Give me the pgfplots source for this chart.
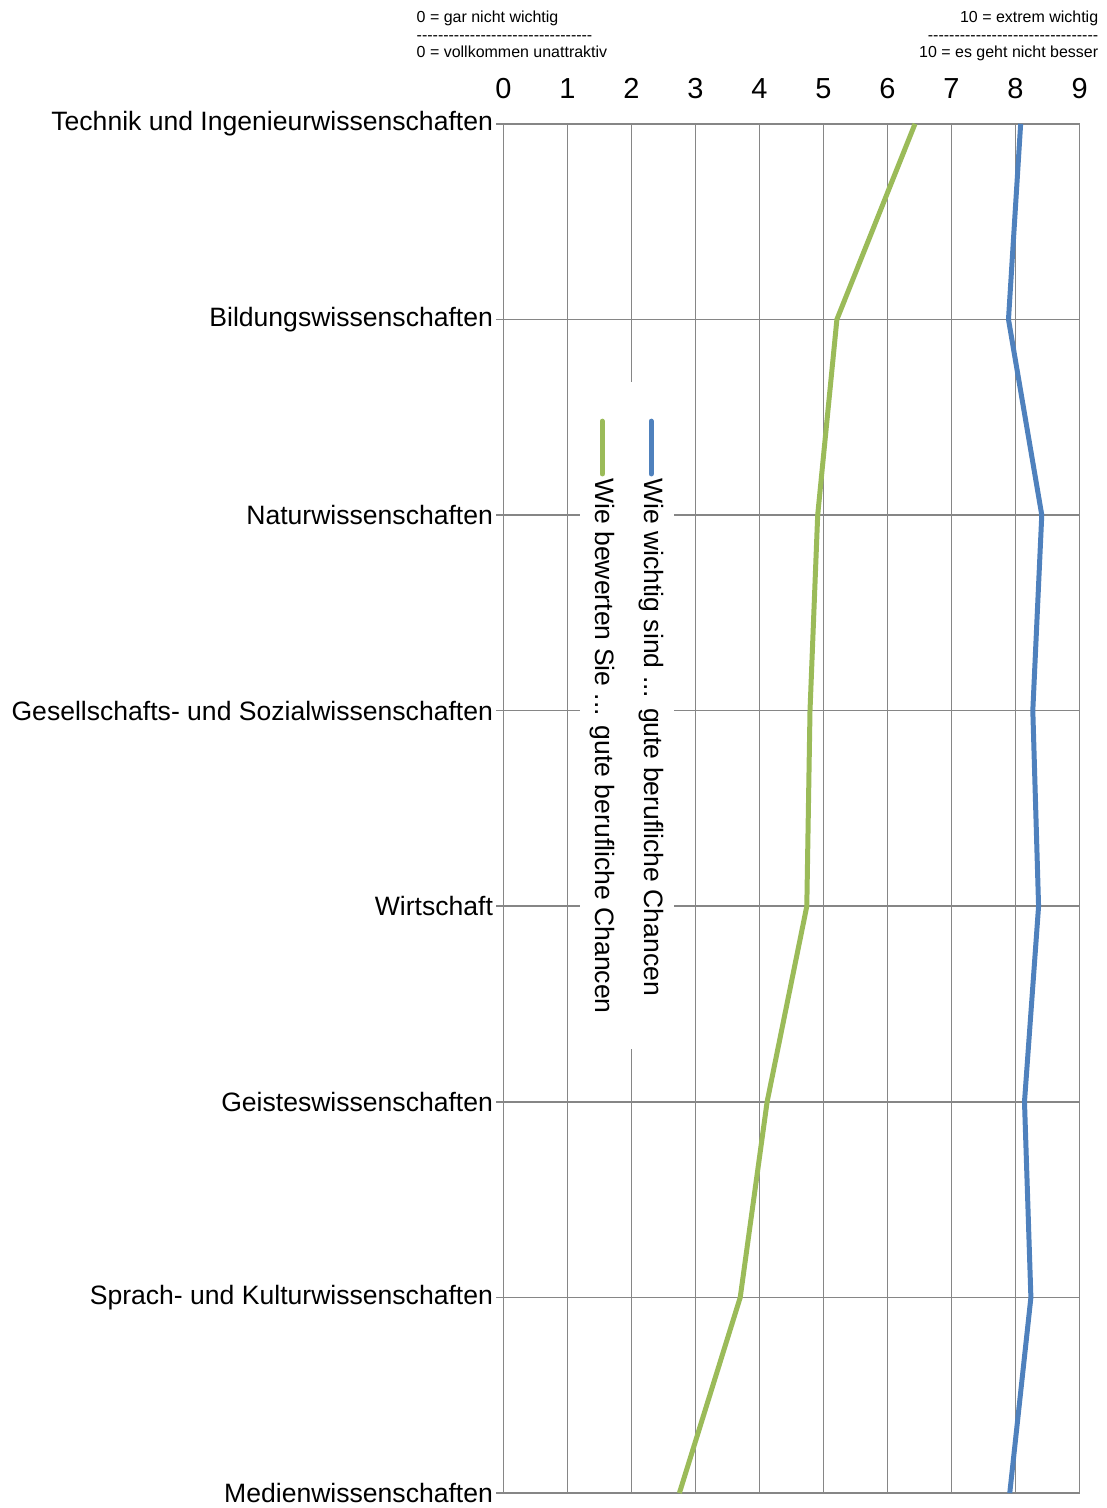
\documentclass[border=0pt]{standalone}
\usepackage{pgfplots}
\pgfplotsset{compat=1.18}
\usepackage{fontspec}
\setmainfont{Liberation Sans}
\definecolor{cgreen}{HTML}{9BBB59}
\definecolor{cblue}{HTML}{4F81BD}
\definecolor{cgrid}{HTML}{868686}
\newcommand\hyphens[1]{\foreach \i in {1,...,#1}{\mbox{-}}}
\begin{document}
\begin{tikzpicture}
\begin{axis}[
  name=ax,
  scale only axis, width=288.5pt, height=685.5pt,
  xmin=0, xmax=9, ymin=0, ymax=7, y dir=reverse,
  xtick={0,...,9}, ytick={0,...,7},
  yticklabels={Technik und Ingenieurwissenschaften,Bildungswissenschaften,Naturwissenschaften,Gesellschafts- und Sozialwissenschaften,Wirtschaft,Geisteswissenschaften,Sprach- und Kulturwissenschaften,Medienwissenschaften},
  xtick pos=right, xticklabel pos=right,
  ytick pos=left, yticklabel pos=left,
  x tick style={draw=none},
  y tick style={cgrid, line width=0.75pt},
  ytick align=outside, major tick length=3.5pt,
  grid=major, major grid style={cgrid, line width=0.75pt},
  axis line style={cgrid, line width=0.75pt},
  y tick label style={font=\fontsize{13.3}{16}\selectfont, inner sep=0pt, xshift=-1.5pt},
  x tick label style={font=\fontsize{14.5}{17}\selectfont, yshift=9pt},
  /pgf/number format/assume math mode=true,
  clip=false,
]
\addplot[cgreen, line width=2.5pt] coordinates {(6.43,0) (5.21,1) (4.91,2) (4.79,3) (4.74,4) (4.12,5) (3.70,6) (2.75,7)};
\addplot[cblue, line width=2.5pt] coordinates {(8.08,0) (7.89,1) (8.41,2) (8.27,3) (8.36,4) (8.14,5) (8.24,6) (7.91,7)};
\fill[white] (axis cs:1.19,1.32) rectangle (axis cs:2.67,4.73);
\draw[cgreen, line width=2.5pt, line cap=round] (axis cs:1.545,1.52) -- (axis cs:1.545,1.79);
\draw[cblue, line width=2.5pt, line cap=round] (axis cs:2.31,1.52) -- (axis cs:2.31,1.79);
\node[rotate=-90, anchor=west, inner sep=0pt, font=\fontsize{13.3}{16}\selectfont] at (axis cs:1.545,1.81) {Wie bewerten Sie ... gute berufliche Chancen};
\node[rotate=-90, anchor=west, inner sep=0pt, font=\fontsize{13.3}{16}\selectfont] at (axis cs:2.31,1.81) {Wie wichtig sind ... gute berufliche Chancen};
\node[anchor=north west, inner sep=0pt, align=left, font=\fontsize{8}{8.75}\selectfont] at (axis description cs:-0.151,1.0825) {0 = gar nicht wichtig\\\hyphens{33}\\0 = vollkommen unattraktiv};
\node[anchor=north east, inner sep=0pt, align=right, font=\fontsize{8}{8.75}\selectfont] at (axis description cs:1.033,1.0825) {10 = extrem wichtig\\\hyphens{32}\\10 = es geht nicht besser};
\end{axis}
\pgfresetboundingbox
\path ([shift={(-252pt,-7.5pt)}]ax.south west) rectangle ([shift={(13.5pt,62pt)}]ax.north east);
\end{tikzpicture}
\end{document}
